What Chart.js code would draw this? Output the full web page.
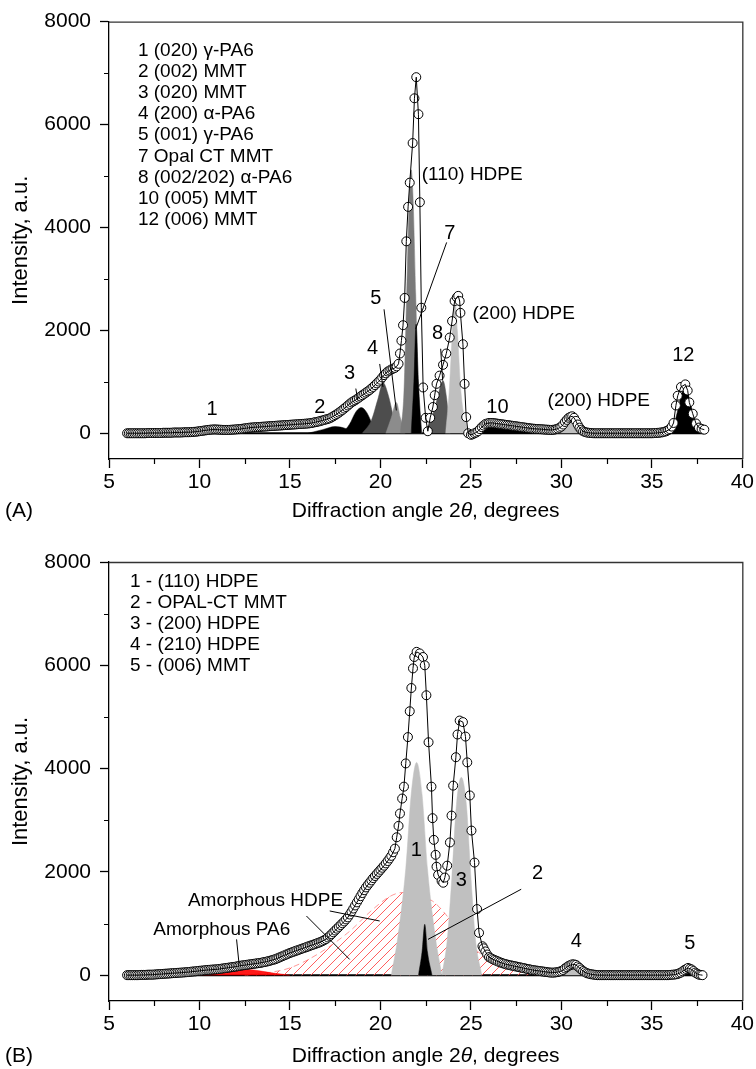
<!DOCTYPE html>
<html>
<head>
<meta charset="utf-8">
<title>XRD patterns</title>
<script src="https://cdn.jsdelivr.net/npm/chart.js@4.4.1/dist/chart.umd.min.js"></script>
<style>
	html, body { margin: 0; padding: 0; background: #fff; }
	body { width: 756px; height: 1069px; position: relative; overflow: hidden; }
	.panel { position: absolute; left: 0; width: 756px; }
	#boxA { top: 0; height: 530px; }
	#boxB { top: 530px; height: 539px; }
</style>
</head>
<body>
<div class="panel" id="boxA"><canvas id="chartA"></canvas></div>
<div class="panel" id="boxB"><canvas id="chartB"></canvas></div>
<script>
'use strict';

// axes
var xTicks = [5, 10, 15, 20, 25, 30, 35, 40];
var xMinor = [7.5, 12.5, 17.5, 22.5, 27.5, 32.5, 37.5];
var yTicks = [0, 2000, 4000, 6000, 8000];
var yMinor = [1000, 3000, 5000, 7000];

// (A) measured pattern
var angleA = [
	6.0, 6.1, 6.2, 6.3, 6.4, 6.5, 6.6, 6.7, 6.8, 6.9,
	7.0, 7.1, 7.2, 7.3, 7.4, 7.5, 7.6, 7.7, 7.8, 7.9,
	8.0, 8.1, 8.2, 8.3, 8.4, 8.5, 8.6, 8.7, 8.8, 8.9,
	9.0, 9.1, 9.2, 9.3, 9.4, 9.5, 9.6, 9.7, 9.8, 9.9,
	10.0, 10.1, 10.2, 10.3, 10.4, 10.5, 10.6, 10.7, 10.8, 10.9,
	11.0, 11.1, 11.2, 11.3, 11.4, 11.5, 11.6, 11.7, 11.8, 11.9,
	12.0, 12.1, 12.2, 12.3, 12.4, 12.5, 12.6, 12.7, 12.8, 12.9,
	13.0, 13.1, 13.2, 13.3, 13.4, 13.5, 13.6, 13.7, 13.8, 13.9,
	14.0, 14.1, 14.2, 14.3, 14.4, 14.5, 14.6, 14.7, 14.8, 14.9,
	15.0, 15.1, 15.2, 15.3, 15.4, 15.5, 15.6, 15.7, 15.8, 15.9,
	16.0, 16.1, 16.2, 16.3, 16.4, 16.5, 16.6, 16.7, 16.8, 16.9,
	17.0, 17.1, 17.2, 17.3, 17.4, 17.5, 17.6, 17.7, 17.8, 17.9,
	18.0, 18.1, 18.2, 18.3, 18.4, 18.5, 18.6, 18.7, 18.8, 18.9,
	19.0, 19.1, 19.2, 19.3, 19.4, 19.5, 19.6, 19.7, 19.8, 19.9,
	20.0, 20.1, 20.2, 20.3, 20.4, 20.5, 20.6, 20.7, 20.8, 20.9,
	21.0, 21.08, 21.16, 21.25, 21.34, 21.43, 21.53, 21.62, 21.78, 21.88,
	21.98, 22.1, 22.18, 22.26, 22.36, 22.5, 22.62, 22.75, 22.9, 23.0,
	23.1, 23.27, 23.46, 23.64, 23.83, 23.96, 24.1, 24.22, 24.3, 24.38,
	24.42, 24.56, 24.65, 24.74, 24.85, 25.0, 25.1, 25.2, 25.3, 25.4,
	25.5, 25.6, 25.7, 25.8, 25.9, 26.0, 26.1, 26.2, 26.3, 26.4,
	26.5, 26.6, 26.7, 26.8, 26.9, 27.0, 27.1, 27.2, 27.3, 27.4,
	27.5, 27.6, 27.7, 27.8, 27.9, 28.0, 28.1, 28.2, 28.3, 28.4,
	28.5, 28.6, 28.7, 28.8, 28.9, 29.0, 29.1, 29.2, 29.3, 29.4,
	29.5, 29.6, 29.7, 29.8, 29.9, 30.0, 30.1, 30.2, 30.3, 30.4,
	30.5, 30.6, 30.7, 30.8, 30.9, 31.0, 31.1, 31.2, 31.3, 31.4,
	31.5, 31.6, 31.7, 31.8, 31.9, 32.0, 32.1, 32.2, 32.3, 32.4,
	32.5, 32.6, 32.7, 32.8, 32.9, 33.0, 33.1, 33.2, 33.3, 33.4,
	33.5, 33.6, 33.7, 33.8, 33.9, 34.0, 34.1, 34.2, 34.3, 34.4,
	34.5, 34.6, 34.7, 34.8, 34.9, 35.0, 35.1, 35.2, 35.3, 35.4,
	35.5, 35.6, 35.7, 35.8, 35.9, 36.0, 36.1, 36.2, 36.33, 36.43,
	36.61, 36.85, 36.98, 37.07, 37.26, 37.44, 37.6, 37.75, 37.9
];
var countsA = [
	0, 0, 0, 0, 0, 0, 0, 0, 0, 0,
	0, 3, 5, 5, 5, 5, 5, 5, 5, 5,
	10, 10, 10, 10, 10, 12, 15, 15, 15, 15,
	15, 18, 20, 20, 20, 22, 25, 28, 30, 35,
	40, 45, 50, 55, 60, 65, 70, 72, 75, 74,
	72, 70, 68, 66, 65, 65, 65, 67, 70, 72,
	75, 78, 80, 85, 90, 95, 100, 105, 110, 112,
	115, 118, 120, 122, 125, 128, 130, 132, 135, 138,
	140, 142, 145, 148, 150, 152, 155, 158, 160, 162,
	165, 168, 170, 172, 175, 178, 180, 182, 185, 188,
	190, 195, 200, 208, 215, 222, 230, 240, 250, 260,
	270, 280, 290, 310, 330, 352, 375, 400, 425, 452,
	480, 510, 540, 570, 600, 620, 640, 665, 690, 715,
	740, 765, 790, 815, 840, 870, 900, 935, 970, 1005,
	1040, 1085, 1130, 1165, 1200, 1220, 1240, 1255, 1270, 1300,
	1350, 1550, 1800, 2100, 2630, 3730, 4400, 4870, 5640, 6510,
	6920, 6200, 4490, 2440, 890, 300, 40, 300, 510, 740,
	960, 1120, 1330, 1550, 1860, 2180, 2570, 2640, 2670, 2570,
	2340, 1730, 960, 315, 0, -30, -20, 0, 15, 40,
	80, 120, 150, 180, 190, 200, 200, 200, 195, 190,
	185, 180, 175, 170, 165, 160, 155, 150, 145, 140,
	135, 130, 125, 120, 115, 110, 105, 100, 95, 90,
	88, 85, 82, 80, 78, 75, 72, 70, 68, 65,
	66, 70, 78, 90, 108, 130, 170, 220, 260, 300,
	320, 330, 300, 240, 170, 110, 70, 40, 25, 15,
	10, 5, 2, 0, 0, 0, 0, 0, 0, 0,
	0, 0, 0, 0, 0, 0, 0, 0, 0, 0,
	0, 0, 0, 0, 0, 0, 0, 0, 0, 0,
	0, 0, 0, 0, 0, 0, 2, 5, 8, 10,
	15, 20, 30, 40, 60, 80, 130, 200, 540, 730,
	900, 950, 830, 600, 380, 190, 110, 85, 70
];

// (A) fitted components [angle, intensity]
var peak1A = [[9.6, 0], [10.2, 35], [10.8, 60], [11.4, 35], [12.0, 0]];
var peak2A = [[16.0, 0], [16.8, 70], [17.5, 130], [18.1, 90], [18.6, 0]];
var peak3A = [[17.9, 0], [18.3, 180], [18.65, 420], [18.95, 500], [19.25, 400], [19.6, 150], [20.0, 0]];
var peak4A = [[19.0, 0], [19.5, 250], [19.85, 650], [20.15, 980], [20.45, 720], [20.75, 280], [21.05, 0]];
var peak5A = [[20.3, 0], [20.6, 300], [20.88, 600], [21.1, 300], [21.35, 0]];
var peak110A = [[21.1, 0], [21.3, 800], [21.45, 2700], [21.6, 4600], [21.7, 5120], [21.8, 4600], [21.95, 2700], [22.1, 800], [22.3, 0]];
var peak7A = [[21.7, 0], [21.85, 1000], [21.97, 2120], [22.1, 1000], [22.27, 0]];
var peak8A = [[22.5, 0], [22.8, 250], [23.1, 620], [23.46, 1020], [23.65, 700], [23.85, 0]];
var peak200A = [[23.6, 0], [23.8, 800], [23.95, 1800], [24.1, 2630], [24.25, 2000], [24.45, 800], [24.85, 0]];
var peak10A = [[25.2, 0], [25.7, 120], [26.1, 160], [26.8, 140], [27.6, 100], [28.5, 55], [29.5, 0]];
var peak200bA = [[29.7, 0], [30.1, 150], [30.45, 280], [30.8, 150], [31.1, 0]];
var peak12A = [[36.1, 0], [36.4, 400], [36.65, 780], [36.85, 870], [37.05, 700], [37.35, 250], [37.7, 0]];
var baseA = [[6.0, 0], [37.9, 0]];

// (B) measured pattern
var angleB = [
	6.0, 6.1, 6.2, 6.3, 6.4, 6.5, 6.6, 6.7, 6.8, 6.9,
	7.0, 7.1, 7.2, 7.3, 7.4, 7.5, 7.6, 7.7, 7.8, 7.9,
	8.0, 8.1, 8.2, 8.3, 8.4, 8.5, 8.6, 8.7, 8.8, 8.9,
	9.0, 9.1, 9.2, 9.3, 9.4, 9.5, 9.6, 9.7, 9.8, 9.9,
	10.0, 10.1, 10.2, 10.3, 10.4, 10.5, 10.6, 10.7, 10.8, 10.9,
	11.0, 11.1, 11.2, 11.3, 11.4, 11.5, 11.6, 11.7, 11.8, 11.9,
	12.0, 12.1, 12.2, 12.3, 12.4, 12.5, 12.6, 12.7, 12.8, 12.9,
	13.0, 13.1, 13.2, 13.3, 13.4, 13.5, 13.6, 13.7, 13.8, 13.9,
	14.0, 14.1, 14.2, 14.3, 14.4, 14.5, 14.6, 14.7, 14.8, 14.9,
	15.0, 15.1, 15.2, 15.3, 15.4, 15.5, 15.6, 15.7, 15.8, 15.9,
	16.0, 16.1, 16.2, 16.3, 16.4, 16.5, 16.6, 16.7, 16.8, 16.9,
	17.0, 17.1, 17.2, 17.3, 17.4, 17.5, 17.6, 17.7, 17.8, 17.9,
	18.0, 18.1, 18.2, 18.3, 18.4, 18.5, 18.6, 18.7, 18.8, 18.9,
	19.0, 19.1, 19.2, 19.3, 19.4, 19.5, 19.6, 19.7, 19.8, 19.9,
	20.0, 20.1, 20.2, 20.3, 20.4, 20.5, 20.6, 20.7, 20.8, 20.9,
	21.0, 21.08, 21.2, 21.3, 21.4, 21.52, 21.62, 21.71, 21.8, 21.87,
	22.0, 22.17, 22.35, 22.45, 22.54, 22.66, 22.82, 22.88, 22.95, 23.05,
	23.1, 23.19, 23.38, 23.47, 23.56, 23.69, 23.84, 23.93, 24.02, 24.17,
	24.26, 24.38, 24.56, 24.7, 24.8, 24.94, 25.03, 25.2, 25.34, 25.45,
	25.64, 25.7, 25.8, 25.9, 26.0, 26.1, 26.2, 26.3, 26.4, 26.5,
	26.6, 26.7, 26.8, 26.9, 27.0, 27.1, 27.2, 27.3, 27.4, 27.5,
	27.6, 27.7, 27.8, 27.9, 28.0, 28.1, 28.2, 28.3, 28.4, 28.5,
	28.6, 28.7, 28.8, 28.9, 29.0, 29.1, 29.2, 29.3, 29.4, 29.5,
	29.6, 29.7, 29.8, 29.9, 30.0, 30.1, 30.2, 30.3, 30.4, 30.5,
	30.6, 30.7, 30.8, 30.9, 31.0, 31.1, 31.2, 31.3, 31.4, 31.5,
	31.6, 31.7, 31.8, 31.9, 32.0, 32.1, 32.2, 32.3, 32.4, 32.5,
	32.6, 32.7, 32.8, 32.9, 33.0, 33.1, 33.2, 33.3, 33.4, 33.5,
	33.6, 33.7, 33.8, 33.9, 34.0, 34.1, 34.2, 34.3, 34.4, 34.5,
	34.6, 34.7, 34.8, 34.9, 35.0, 35.1, 35.2, 35.3, 35.4, 35.5,
	35.6, 35.7, 35.8, 35.9, 36.0, 36.1, 36.2, 36.3, 36.4, 36.5,
	36.6, 36.7, 36.8, 36.9, 37.0, 37.1, 37.2, 37.3, 37.4, 37.5,
	37.6, 37.7, 37.8
];
var countsB = [
	0, 0, 0, 0, 0, 0, 0, 3, 5, 5,
	5, 8, 10, 10, 10, 12, 15, 18, 20, 22,
	25, 28, 30, 32, 35, 38, 40, 42, 45, 48,
	50, 52, 55, 58, 60, 65, 70, 72, 75, 80,
	85, 88, 90, 95, 100, 102, 105, 108, 110, 112,
	115, 120, 125, 130, 135, 140, 145, 150, 155, 160,
	165, 172, 180, 185, 190, 195, 200, 205, 210, 215,
	220, 225, 230, 235, 240, 248, 255, 262, 270, 280,
	290, 300, 310, 325, 340, 355, 370, 385, 400, 415,
	430, 442, 455, 468, 480, 492, 505, 518, 530, 542,
	555, 568, 580, 592, 605, 618, 630, 645, 660, 680,
	700, 730, 760, 795, 830, 865, 900, 935, 970, 1005,
	1040, 1080, 1120, 1175, 1230, 1290, 1350, 1410, 1470, 1530,
	1590, 1645, 1700, 1745, 1790, 1835, 1880, 1920, 1960, 2000,
	2040, 2080, 2120, 2165, 2210, 2260, 2310, 2380, 2450, 2670,
	2890, 3130, 3420, 3650, 4100, 4610, 5110, 5560, 5940, 6160,
	6260, 6230, 6160, 6000, 5420, 4510, 3650, 3040, 2620, 2330,
	2100, 1940, 1825, 1790, 1890, 2120, 2570, 3090, 3670, 4220,
	4660, 4930, 4900, 4620, 4120, 3480, 2800, 2180, 1280, 820,
	560, 520, 460, 400, 350, 330, 310, 295, 280, 265,
	250, 238, 225, 215, 205, 198, 190, 182, 175, 168,
	160, 152, 145, 138, 130, 122, 115, 108, 100, 95,
	90, 85, 80, 75, 70, 65, 60, 55, 50, 50,
	50, 55, 60, 70, 80, 100, 130, 155, 180, 195,
	210, 208, 200, 170, 140, 110, 80, 60, 40, 30,
	20, 15, 10, 5, 0, 0, 0, 0, 0, 0,
	0, 0, 0, 0, 0, 0, 0, 0, 0, 0,
	0, 0, 0, 0, 0, 0, 0, 0, 0, 0,
	0, 0, 0, 0, 0, 0, 0, 0, 0, 0,
	0, 0, 0, 0, 5, 8, 10, 15, 20, 35,
	50, 75, 100, 120, 140, 125, 110, 80, 50, 30,
	10, 5, 0
];

// (B) fitted components [angle, intensity]
var amorphPA6 = [[9.4, 0], [10.5, 60], [11.5, 105], [12.2, 120], [13.0, 100], [14.0, 45], [15.0, 0]];
var amorphHDPE = [[12.5, 0], [14.0, 60], [15.0, 140], [16.5, 400], [18.3, 850], [19.5, 1250], [20.5, 1520], [21.2, 1600], [22.0, 1560], [22.9, 1430], [23.6, 1180], [24.5, 760], [25.7, 370], [26.5, 230], [27.3, 136], [28.0, 60], [28.8, 0]];
var peak1B = [[20.6, 0], [20.95, 700], [21.4, 2060], [21.7, 3500], [22.0, 4120], [22.3, 3500], [22.6, 2060], [23.05, 700], [23.4, 0]];
var peak2B = [[22.1, 0], [22.3, 450], [22.45, 984], [22.6, 450], [22.85, 0]];
var peak3B = [[23.4, 0], [23.7, 700], [23.95, 1900], [24.2, 3300], [24.47, 3830], [24.75, 3300], [25.0, 1900], [25.25, 700], [25.6, 0]];
var peak4B = [[29.9, 0], [30.3, 120], [30.7, 200], [31.1, 120], [31.5, 0]];
var peak5B = [[36.4, 0], [36.8, 70], [37.05, 110], [37.4, 60], [37.7, 0]];
var baseB = [[9.4, 0], [37.8, 0]];

// labels
var legendA = ['1 (020) \u03b3-PA6', '2 (002) MMT', '3 (020) MMT', '4 (200) \u03b1-PA6', '5 (001) \u03b3-PA6',
	'7 Opal CT MMT', '8 (002/202) \u03b1-PA6', '10 (005) MMT', '12 (006) MMT'];
var legendB = ['1 - (110) HDPE', '2 - OPAL-CT MMT', '3 - (200) HDPE', '4 - (210) HDPE', '5 - (006) MMT'];

var FONT = '"Liberation Sans", Arial, Helvetica, sans-serif';
Chart.defaults.font.family = FONT;
Chart.defaults.color = '#000';

function toPoints(pairs){
	return pairs.map(function(p){ return {x: p[0], y: p[1]}; });
}

function measured(angles, counts){
	return angles.map(function(a, i){ return {x: a, y: counts[i]}; });
}

function peak(pairs, colour){
	return {
		data: toPoints(pairs),
		backgroundColor: colour,
		borderColor: colour,
		borderWidth: 0.5,
		pointRadius: 0,
		fill: 'origin',
		cubicInterpolationMode: 'monotone'
	};
}

function circles(points){
	return {
		data: points,
		showLine: false,
		pointRadius: 4.5,
		pointBackgroundColor: '#fff',
		pointBorderColor: '#000',
		pointBorderWidth: 1
	};
}

function curve(points){
	return {
		data: points,
		borderColor: '#000',
		borderWidth: 1,
		pointRadius: 0,
		fill: false
	};
}

function baseline(pairs){
	return {
		data: toPoints(pairs),
		borderColor: '#000',
		borderWidth: 2,
		pointRadius: 0,
		fill: false
	};
}

// light red "/" hatching for the amorphous HDPE halo
function hatch(){
	var c = document.createElement('canvas');
	c.width = 9; c.height = 9;
	var g = c.getContext('2d');
	g.fillStyle = 'rgb(255,95,95)';
	for (var i = 0; i < 9; i++) {
		g.fillRect(i, 8 - i, 1, 1);
	}
	return g.createPattern(c, 'repeat');
}

// text, leader lines, minor ticks, frame
var notes = {
	id: 'notes',
	afterDraw: function(chart, args, opts){
		var ctx = chart.ctx;
		var x = chart.scales.x, y = chart.scales.y;
		var area = chart.chartArea;
		ctx.save();
		ctx.fillStyle = '#000';

		// frame top / right
		ctx.lineWidth = 1.3;
		ctx.strokeStyle = '#333';
		ctx.beginPath();
		ctx.moveTo(area.left, area.top + 0.5);
		ctx.lineTo(area.right + 0.5, area.top + 0.5);
		ctx.lineTo(area.right + 0.5, area.bottom);
		ctx.stroke();

		// minor ticks
		ctx.strokeStyle = '#000';
		ctx.lineWidth = 1.2;
		ctx.beginPath();
		xMinor.forEach(function(v){
			var px = Math.round(x.getPixelForValue(v)) + 0.5;
			ctx.moveTo(px, area.bottom);
			ctx.lineTo(px, area.bottom + 5);
		});
		yMinor.forEach(function(v){
			var py = Math.round(y.getPixelForValue(v)) + 0.5;
			ctx.moveTo(area.left, py);
			ctx.lineTo(area.left - 5, py);
		});
		ctx.stroke();

		// leader lines
		ctx.lineWidth = 1;
		(opts.lines || []).forEach(function(l){
			ctx.beginPath();
			ctx.moveTo(x.getPixelForValue(l[0]), y.getPixelForValue(l[1]));
			ctx.lineTo(x.getPixelForValue(l[2]), y.getPixelForValue(l[3]));
			ctx.stroke();
		});

		// labels on peaks
		ctx.textBaseline = 'middle';
		(opts.labels || []).forEach(function(t){
			ctx.font = (t[4] || 19) + 'px ' + FONT;
			ctx.textAlign = t[3] || 'center';
			ctx.fillText(t[0], x.getPixelForValue(t[1]), y.getPixelForValue(t[2]));
		});

		// legend block
		ctx.font = '19px ' + FONT;
		ctx.textAlign = 'left';
		var lx = x.getPixelForValue(opts.legendAt[0]);
		var ly = y.getPixelForValue(opts.legendAt[1]);
		opts.legend.forEach(function(s, i){
			ctx.fillText(s, lx, ly + i * opts.legendStep);
		});

		// x title with italic theta
		var ty = area.bottom + opts.titleGap;
		var parts = [['Diffraction angle 2', ''], ['\u03b8', 'italic '], [', degrees', '']];
		var total = 0;
		parts.forEach(function(p){
			ctx.font = p[1] + '21px ' + FONT;
			total += ctx.measureText(p[0]).width;
		});
		var tx = (area.left + area.right) / 2 - total / 2;
		parts.forEach(function(p){
			ctx.font = p[1] + '21px ' + FONT;
			ctx.fillText(p[0], tx, ty);
			tx += ctx.measureText(p[0]).width;
		});

		// panel letter
		ctx.font = '21px ' + FONT;
		ctx.fillText(opts.panel, 5, ty);
		ctx.restore();
	}
};

function options(topPad, axisHeight, noteOpts){
	var tickGrid = {display: true, drawOnChartArea: false, drawTicks: true, tickLength: 9, tickColor: '#000', tickWidth: 1.3};
	var border = {display: true, color: '#000', width: 1.3};
	return {
		responsive: true,
		maintainAspectRatio: false,
		animation: false,
		layout: {padding: {top: topPad, right: 13, left: 0, bottom: 0}},
		plugins: {
			legend: {display: false},
			tooltip: {enabled: false},
			notes: noteOpts
		},
		scales: {
			x: {
				type: 'linear', min: 5, max: 40,
				afterFit: function(s){ s.height = axisHeight; },
				afterBuildTicks: function(s){ s.ticks = xTicks.map(function(v){ return {value: v}; }); },
				grid: tickGrid,
				border: border,
				ticks: {color: '#000', font: {size: 21}, padding: 2, maxRotation: 0, autoSkip: false,
					callback: function(v){ return String(v); }}
			},
			y: {
				type: 'linear', min: -500, max: 8000,
				afterFit: function(s){ s.width = 109; },
				afterBuildTicks: function(s){ s.ticks = yTicks.map(function(v){ return {value: v}; }); },
				grid: tickGrid,
				border: border,
				ticks: {color: '#000', font: {size: 21}, padding: 9,
					callback: function(v){ return String(v); }},
				title: {display: true, text: 'Intensity, a.u.', color: '#000', font: {size: 22}, padding: {top: 8, bottom: 0}}
			}
		}
	};
}

var pointsA = measured(angleA, countsA);
var pointsB = measured(angleB, countsB);

new Chart(document.getElementById('chartA'), {
	type: 'line',
	data: {
		datasets: [
			curve(pointsA),
			circles(pointsA),
			peak(peak7A, '#000'),
			peak(peak110A, '#7a7a7a'),
			peak(peak5A, '#8c8c8c'),
			peak(peak4A, '#4d4d4d'),
			peak(peak3A, '#000'),
			peak(peak2A, '#000'),
			peak(peak1A, '#000'),
			peak(peak200A, '#bfbfbf'),
			peak(peak8A, '#555'),
			peak(peak10A, '#000'),
			peak(peak200bA, '#bfbfbf'),
			peak(peak12A, '#000'),
			baseline(baseA)
		]
	},
	options: options(20, 71, {
		panel: '(A)',
		titleGap: 52,
		legend: legendA,
		legendAt: [6.6, 7440],
		legendStep: 21.2,
		labels: [
			['1', 10.69, 464, 'center', 20], ['2', 16.65, 502, 'center', 20], ['3', 18.3, 1159, 'center', 20],
			['4', 19.57, 1642, 'center', 20], ['5', 19.74, 2628, 'center', 20], ['7', 23.83, 3883, 'center', 20],
			['8', 23.16, 1932, 'center', 20], ['(110) HDPE', 22.28, 5023, 'left'], ['(200) HDPE', 25.09, 2318, 'left'],
			['10', 26.47, 502, 'center', 20], ['(200) HDPE', 29.24, 638, 'left'], ['12', 36.74, 1507, 'center', 20]
		],
		lines: [
			[18.64, 869, 18.75, 638], [19.96, 1347, 20.14, 900], [20.2, 2409, 20.88, 444],
			[23.66, 3709, 21.95, 2029], [23.33, 1642, 23.44, 1024]
		]
	}),
	plugins: [notes]
});

new Chart(document.getElementById('chartB'), {
	type: 'line',
	data: {
		datasets: [
			curve(pointsB),
			circles(pointsB),
			peak(peak2B, '#000'),
			peak(peak1B, '#c0c0c0'),
			peak(peak3B, '#c0c0c0'),
			peak(peak4B, '#c0c0c0'),
			peak(peak5B, '#000'),
			peak(amorphPA6, 'rgba(255,0,0,0.9)'),
			{
				data: toPoints(amorphHDPE),
				backgroundColor: hatch(),
				borderColor: 'rgba(255,110,110,0.7)',
				borderWidth: 1,
				borderDash: [6, 4],
				pointRadius: 0,
				fill: 'origin',
				cubicInterpolationMode: 'monotone'
			},
			baseline(baseB)
		]
	},
	options: options(32, 68, {
		panel: '(B)',
		titleGap: 55,
		legend: legendB,
		legendAt: [6.16, 7611],
		legendStep: 21,
		labels: [
			['1', 21.99, 2408, 'center', 20], ['3', 24.47, 1825, 'center', 20], ['2', 28.68, 1961, 'center', 20],
			['4', 30.82, 660, 'center', 20], ['5', 37.1, 621, 'center', 20],
			['Amorphous HDPE', 9.36, 1437, 'left'], ['Amorphous PA6', 7.45, 887, 'left']
		],
		lines: [
			[12.05, 693, 12.19, 208], [17.2, 1243, 19.96, 1049], [15.91, 1146, 18.3, 305],
			[27.78, 1664, 22.63, 693]
		]
	}),
	plugins: [notes]
});
</script>
</body>
</html>
